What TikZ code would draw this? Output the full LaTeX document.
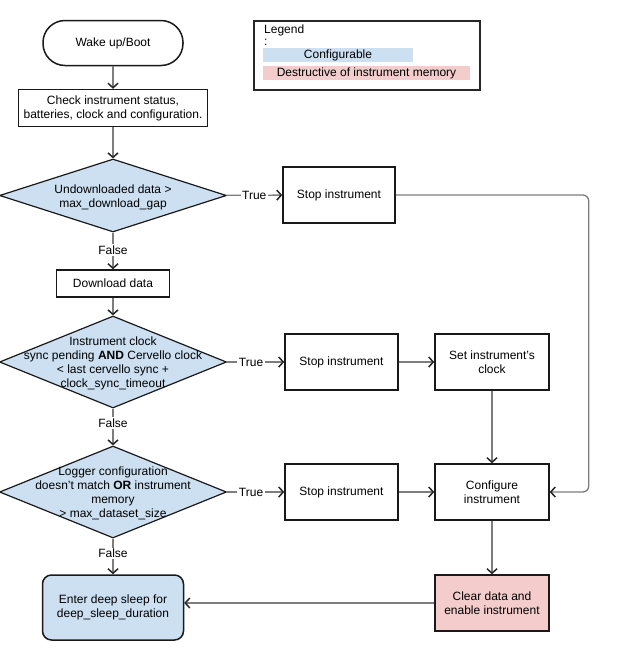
\documentclass[tikz,border=0pt]{standalone}
\usepackage{fontspec}
\setmainfont{Liberation Sans}
\usetikzlibrary{shapes.geometric,arrows.meta}

\definecolor{cfgblue}{RGB}{204,224,242}
\definecolor{destpink}{RGB}{244,204,204}
\definecolor{linegray}{RGB}{125,125,125}

\begin{document}
\begin{tikzpicture}[x=1pt,y=-1pt,
  font=\fontsize{12}{14}\selectfont,
  box/.style={draw=black!90, line width=1.5pt, align=center, inner sep=2pt},
  decision/.style={diamond, draw=black!90, line width=1.2pt, fill=cfgblue,
    inner sep=0pt, minimum width=227pt},
  edge/.style={draw=linegray, line width=1.3pt,
    -{Straight Barb[length=4.5pt,width=10pt,line width=1.5pt,color=black!85]}},
  lbl/.style={fill=white, inner sep=1.5pt}]

\useasboundingbox (0,0) rectangle (623,659);

% Legend
\node[draw=black!85, line width=1.5pt, anchor=north west,
  minimum width=226pt, minimum height=69pt] (legend) at (253,20) {};
\node[anchor=base west, inner sep=0pt] (legtitle) at (264,33) {Legend};
\node[anchor=base west, inner sep=0pt] (legcolon) at (264,45) {:};
\node[fill=cfgblue, inner sep=0pt, minimum width=150pt, minimum height=14pt] (legcfg) at (338,55) {Configurable};
\node[fill=destpink, inner sep=0pt, minimum width=207pt, minimum height=14pt] (legdest) at (366.5,73) {Destructive of instrument memory};

% Main column
\node[box, minimum width=140pt, minimum height=45pt, rounded corners=22pt] (wake) at (113,43) {Wake up/Boot};
\node[box, minimum width=189pt, minimum height=37pt] (check) at (113,108) {Check instrument status,\\batteries, clock and configuration.};
\node[decision, minimum height=73pt] (dgap) at (113,195.5) {};
\node[align=center] (dgaptxt) at (113,197) {Undownloaded data >\\max\_download\_gap};
\node[box, minimum width=113pt, minimum height=27pt] (download) at (113,283.5) {Download data};
\node[decision, minimum height=92pt] (dclk) at (113,362) {};
\node[align=center] (dclktxt) at (113,363) {Instrument clock\\sync pending \textbf{AND} Cervello clock\\< last cervello sync +\\clock\_sync\_timeout};
\node[decision, minimum height=92pt] (dcfg) at (113,492) {};
\node[align=center] (dcfgtxt) at (113,493) {Logger configuration\\doesn't match \textbf{OR} instrument\\memory\\> max\_dataset\_size};
\node[box, fill=cfgblue, minimum width=141pt, minimum height=65pt, rounded corners=9pt] (sleep) at (113,607.5) {Enter deep sleep for\\deep\_sleep\_duration};

% Right side
\node[box, minimum width=112pt, minimum height=56pt] (stopA) at (339,195) {Stop instrument};
\node[box, minimum width=113pt, minimum height=56pt] (stopB) at (341.5,362) {Stop instrument};
\node[box, minimum width=114pt, minimum height=56pt] (setclk) at (492,362) {Set instrument's\\clock};
\node[box, minimum width=113pt, minimum height=56pt] (stopC) at (341.5,492) {Stop instrument};
\node[box, minimum width=114pt, minimum height=56pt] (confg) at (492,492) {Configure\\instrument};
\node[box, fill=destpink, minimum width=114pt, minimum height=56pt] (clear) at (492,603) {Clear data and\\enable instrument};

% Connectors
\draw[edge] (wake) -- (check);
\draw[edge] (check) -- (dgap);
\draw[edge] (dgap) -- node[lbl, pos=0.48] {False} (download);
\draw[edge] (download) -- (dclk);
\draw[edge] (dclk) -- node[lbl, pos=0.4] {False} (dcfg);
\draw[edge] (dcfg) -- node[lbl, pos=0.42] {False} (sleep);
\draw[edge] (dgap) -- node[lbl] {True} (stopA);
\draw[edge] (dclk) -- node[lbl, pos=0.42] {True} (stopB);
\draw[edge] (dcfg) -- node[lbl, pos=0.42] {True} (stopC);
\draw[edge] (stopB) -- (setclk);
\draw[edge] (setclk) -- (confg);
\draw[edge] (stopC) -- (confg);
\draw[edge, rounded corners=6pt] (stopA.east) -| ([xshift=39pt]confg.east) -- (confg.east);
\draw[edge] (confg) -- (clear);
\draw[edge] (clear.west) -- (clear.west -| sleep.east);

\end{tikzpicture}
\end{document}
